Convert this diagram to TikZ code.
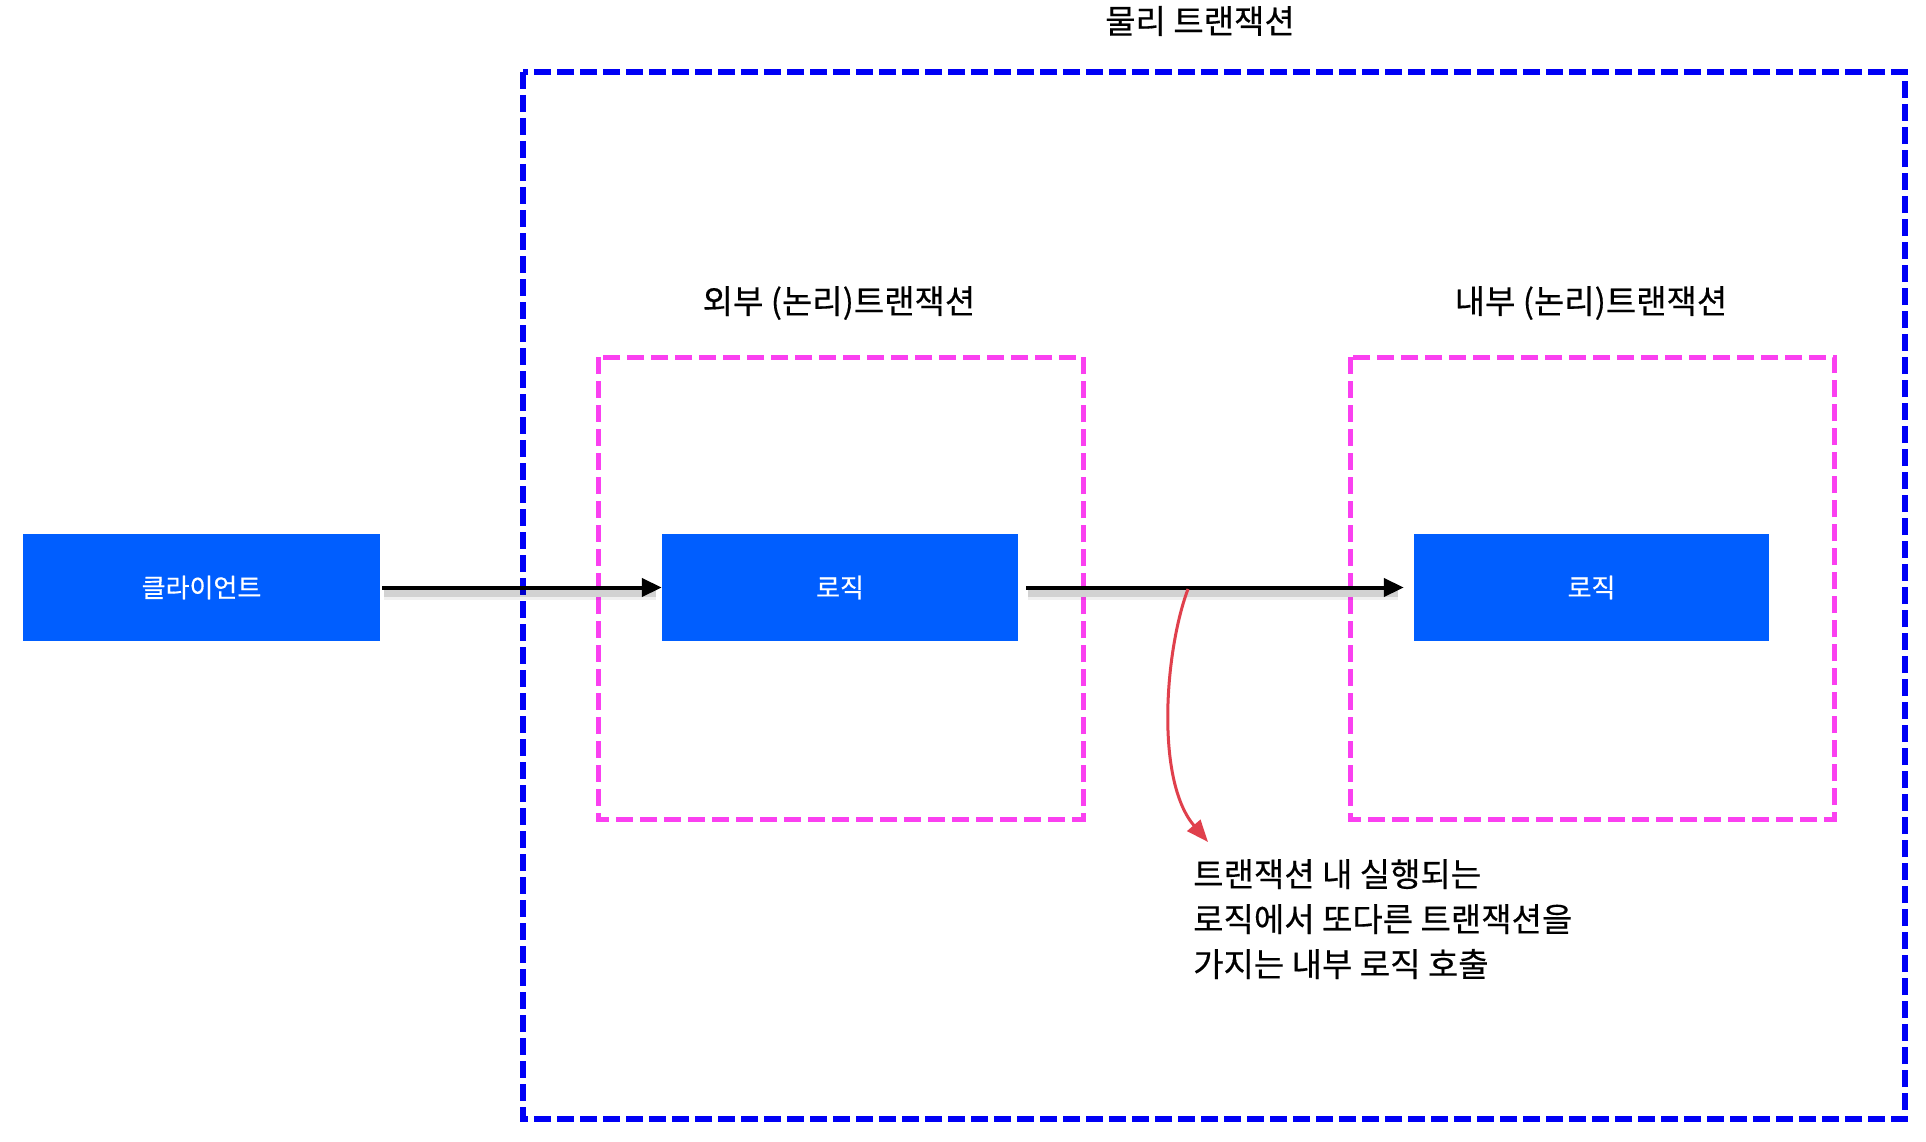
\documentclass[tikz,border=0pt]{standalone}
\usepackage{fontspec}
\setmainfont[FakeBold=0.4]{Noto Sans CJK KR}
\usetikzlibrary{arrows.meta}
\definecolor{boxblue}{RGB}{0,94,255}
\definecolor{frameblue}{RGB}{0,0,245}
\definecolor{pinkframe}{RGB}{250,64,240}
\definecolor{callred}{RGB}{224,64,76}
\tikzset{
  logicbox/.style={fill=boxblue, draw=none, minimum height=107pt, text=white, font=\fontsize{26}{30}\selectfont, inner sep=0pt},
  physframe/.style={draw=frameblue, line width=5.5pt, dash pattern=on 17pt off 6pt},
  logframe/.style={draw=pinkframe, line width=5pt, dash pattern=on 17pt off 7pt},
  flow/.style={line width=4pt, -{Triangle[length=20pt,width=18pt]}},
  flowshadow/.style={line width=7pt, draw=black, opacity=0.12},
  calltip/.style={draw=callred, line width=3pt, -{Triangle[length=22pt,width=17pt]}},
  label/.style={font=\fontsize{33}{38}\selectfont, inner sep=0pt},
}
\begin{document}
\begin{tikzpicture}[x=1pt,y=-1pt]
\useasboundingbox[fill=white] (0,0) rectangle (1926,1142);
% frames
\draw[physframe] (523,72) rectangle (1905,1119);
\draw[logframe] (598,357) rectangle (1083,819);
\draw[logframe] (1350,357) rectangle (1834,819);
% labels
\node[label] (phys) at (1200,21) {물리 트랜잭션};
\node[label] (outer) at (839,303) {외부 (논리)트랜잭션};
\node[label] (inner) at (1591,303) {내부 (논리)트랜잭션};
% boxes
\node[logicbox, minimum width=357pt] (client) at (201.5,587.5) {클라이언트};
\node[logicbox, minimum width=356pt] (logic1) at (840,587.5) {로직};
\node[logicbox, minimum width=355pt] (logic2) at (1591.5,587.5) {로직};
% arrow shadows
\draw[flowshadow] ([xshift=4pt,yshift=-6pt]client.east) -- ([xshift=-6pt,yshift=-6pt]logic1.west);
\draw[flowshadow] ([xshift=10pt,yshift=-6pt]logic1.east) -- ([xshift=-16pt,yshift=-6pt]logic2.west);
\draw[flowshadow, line width=10pt, opacity=0.06] ([xshift=4pt,yshift=-7pt]client.east) -- ([xshift=-6pt,yshift=-7pt]logic1.west);
\draw[flowshadow, line width=10pt, opacity=0.06] ([xshift=10pt,yshift=-7pt]logic1.east) -- ([xshift=-16pt,yshift=-7pt]logic2.west);
% arrows
\draw[flow] ([xshift=2pt]client.east) -- (logic1.west);
\draw[flow] ([xshift=8pt]logic1.east) -- ([xshift=-10pt]logic2.west);
% note
\node[label, anchor=north west, align=left, font=\fontsize{33}{45}\selectfont] (note) at (1193,859)
  {트랜잭션 내 실행되는\\로직에서 또다른 트랜잭션을\\가지는 내부 로직 호출};
\coordinate (split) at (1188,589);
\coordinate (tip) at (1208,842);
\draw[calltip] (split) .. controls (1165,650) and (1155,780) .. (tip);
\end{tikzpicture}
\end{document}
